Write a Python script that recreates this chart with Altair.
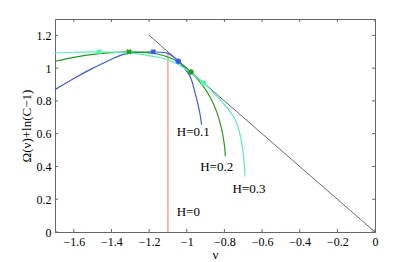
import altair as alt
import pandas as pd

# ---- data ----
blue_x = [-1.7, -1.6, -1.514, -1.45, -1.337, -1.25, -1.178, -1.1, -1.045, -0.983, -0.956, -0.933, -0.921]
blue_y = [0.869, 0.937, 0.991, 1.027, 1.084, 1.096, 1.099, 1.09, 1.042, 0.95, 0.849, 0.74, 0.655]

green_x = [-1.7, -1.6, -1.5, -1.4, -1.307, -1.2, -1.15, -1.1, -1.04, -0.979, -0.912, -0.87, -0.84, -0.815, -0.8, -0.795]
green_y = [1.042, 1.066, 1.084, 1.095, 1.099, 1.093, 1.085, 1.068, 1.035, 0.977, 0.889, 0.81, 0.73, 0.63, 0.53, 0.462]

cyan_x = [-1.7, -1.6, -1.466, -1.3, -1.178, -1.1, -1.045, -0.98, -0.912, -0.841, -0.77, -0.74, -0.72, -0.7, -0.691]
cyan_y = [1.093, 1.097, 1.099, 1.092, 1.072, 1.052, 1.022, 0.972, 0.91, 0.83, 0.735, 0.68, 0.61, 0.48, 0.339]

series_names = ["H=0.1", "H=0.2", "H=0.3"]
series_colors = ["#3a58f0", "#1f9e1f", "#55f2b2"]

peak_x = [-1.178, -1.307, -1.466]
peak_y = [1.1, 1.1, 1.1]
dot_x = [-1.045, -0.978, -0.912]
dot_y = [1.042, 0.977, 0.91]

tangent_x = [-1.2, 0.0]
tangent_y = [1.2, 0.0]

h0_x = [-1.1, -1.1]
h0_y = [0.0, 1.1]

label_text = ["H=0.1", "H=0.2", "H=0.3", "H=0"]
label_x = [-0.965, -0.841, -0.669, -0.992]
label_y = [0.61, 0.394, 0.264, 0.124]

x_ticks = [-1.6, -1.4, -1.2, -1.0, -0.8, -0.6, -0.4, -0.2, 0.0]
y_ticks = [0.0, 0.2, 0.4, 0.6, 0.8, 1.0, 1.2]

X_DOMAIN = [-1.7, 0.0]
Y_DOMAIN = [0.0, 1.3]
W, H = 320, 213

# ---- tables ----
rows = []
for name, xs_, ys_ in zip(series_names, [blue_x, green_x, cyan_x], [blue_y, green_y, cyan_y]):
    for i, (a, b) in enumerate(zip(xs_, ys_)):
        rows.append({"x": a, "y": b, "s": name, "i": i})
curves = pd.DataFrame(rows)
peaks = pd.DataFrame({"x": peak_x, "y": peak_y, "s": series_names})
dots = pd.DataFrame({"x": dot_x, "y": dot_y, "s": series_names})
tangent = pd.DataFrame({"x": tangent_x, "y": tangent_y})
h0 = pd.DataFrame({"x": h0_x, "y": h0_y})
labels = pd.DataFrame({"x": label_x, "y": label_y, "t": label_text})
xt = pd.DataFrame({"x": x_ticks})
yt = pd.DataFrame({"y": y_ticks})

xs = alt.Scale(domain=X_DOMAIN, nice=False, zero=False)
ys = alt.Scale(domain=Y_DOMAIN, nice=False, zero=False)
cs = alt.Scale(domain=series_names, range=series_colors)

FONT = "Liberation Serif"

x_axis = alt.Axis(
    title="ν", values=x_ticks, format="~g", ticks=False, grid=False,
    labelOverlap=False, labelFlush=False,
    labelPadding=4, titlePadding=1, labelFontSize=12, titleFontSize=13,
    titleFontWeight="normal", domainColor="#666", labelColor="#000")
y_axis = alt.Axis(
    title="Ω(ν)+ln(C−1)", values=y_ticks, format="~g", ticks=False, grid=False,
    labelOverlap=False, labelFlush=False,
    labelPadding=4, titlePadding=3, labelFontSize=12, titleFontSize=13,
    titleFontWeight="normal", domainColor="#666", labelColor="#000")

X = alt.X("x:Q", scale=xs, axis=x_axis, title="ν")
Y = alt.Y("y:Q", scale=ys, axis=y_axis, title="Ω(ν)+ln(C−1)")

tangent_l = alt.Chart(tangent).mark_line(color="#444", strokeWidth=0.8).encode(x=X, y=Y)

red = alt.Chart(h0).mark_line(color="#ff6f6f", strokeWidth=1).encode(x=X, y=Y)

lines = alt.Chart(curves).mark_line(interpolate="catmull-rom", strokeWidth=1.2).encode(
    x=X, y=Y, order="i:Q",
    color=alt.Color("s:N", scale=cs, legend=None))

peak_pts = alt.Chart(peaks).mark_point(shape="cross", angle=45, filled=True, size=30, opacity=1).encode(
    x=X, y=Y, color=alt.Color("s:N", scale=cs, legend=None))

dot_pts = alt.Chart(dots).mark_point(shape="circle", filled=True, size=30, opacity=1).encode(
    x=X, y=Y, color=alt.Color("s:N", scale=cs, legend=None))

texts = alt.Chart(labels).mark_text(fontSize=13, font=FONT, color="#000", align="center", baseline="middle").encode(
    x=X, y=Y, text="t:N")

# inward ticks
tick_col = "#666"
tb = alt.Chart(xt).mark_rule(color=tick_col).encode(x=X, y=alt.value(H), y2=alt.value(H - 3))
tt = alt.Chart(xt).mark_rule(color=tick_col).encode(x=X, y=alt.value(0), y2=alt.value(3))
tl = alt.Chart(yt).mark_rule(color=tick_col).encode(y=Y, x=alt.value(0), x2=alt.value(3))
tr = alt.Chart(yt).mark_rule(color=tick_col).encode(y=Y, x=alt.value(W), x2=alt.value(W - 3))

chart = alt.layer(tangent_l, red, lines, peak_pts, dot_pts, texts, tb, tt, tl, tr).properties(
    width=W, height=H,
    autosize=alt.AutoSizeParams(type="none"),
    padding={"left": 47, "top": 11, "right": 32, "bottom": 30},
).configure(font=FONT).configure_view(stroke="#666", strokeWidth=1).configure_axis(
    labelFont=FONT, titleFont=FONT, labelOverlap=False)

chart.save("out.html", embed_options={"renderer": "svg", "actions": False})
